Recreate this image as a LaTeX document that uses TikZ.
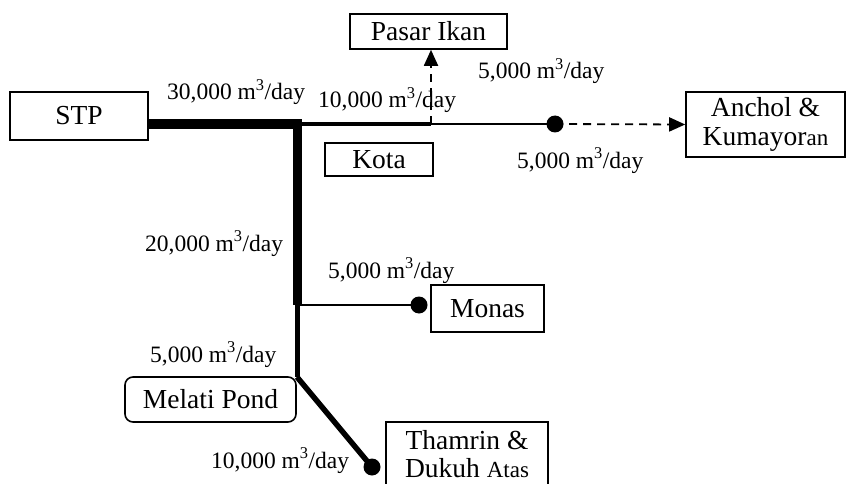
\documentclass[tikz,border=0pt]{standalone}
\usepackage{fontspec}
\setmainfont{Liberation Serif}
\usetikzlibrary{arrows.meta}
\begin{document}
\begin{tikzpicture}[x=1pt,y=-1pt,
  box/.style={draw,line width=1.6pt,inner sep=0pt,font=\fontsize{27.5}{29}\selectfont,align=center},
  lbl/.style={inner sep=0pt,anchor=base west,font=\fontsize{23.5}{26}\selectfont},
  dotn/.style={circle,fill=black,inner sep=0pt,minimum size=17pt},
  dsh/.style={line width=1.8pt,dash pattern=on 8pt off 6pt,-{Triangle[length=16pt,width=14pt]}}]
\useasboundingbox (0,0) rectangle (846,484);
% boxes
\node[box,minimum width=138,minimum height=48] (stp) at (79,116) {STP};
\node[box,minimum width=157,minimum height=35] (pasar) at (428.5,31.5) {Pasar Ikan};
\node[box,minimum width=108,minimum height=33] (kota) at (379,159.5) {Kota};
\node[box,minimum width=159,minimum height=65] (anchol) at (765.5,124.5) {Anchol \&\\Kumayor{\fontsize{23}{29}\selectfont an}};
\node[box,minimum width=113,minimum height=47] (monas) at (487.5,308.5) {Monas};
\node[box,rounded corners=8pt,minimum width=171,minimum height=45] (melati) at (210.5,399.5) {Melati Pond};
\node[box,minimum width=162,minimum height=79,anchor=north] (thamrin) at (467,421) {};
\node[inner sep=0pt,font=\fontsize{27.5}{28}\selectfont,align=center] (thamtxt) at (467,454) {Thamrin \&\\Dukuh {\fontsize{23}{28}\selectfont Atas}};
% junctions and dots
\coordinate (j1) at (297,124);
\coordinate (j1e) at (302,124);
\coordinate (j2) at (431,124);
\coordinate (j3) at (297,305);
\coordinate (j4) at (297,377);
\node[dotn] (d1) at (555,124) {};
\node[dotn] (d2) at (419,305) {};
\node[dotn] (d3) at (372,467) {};
% pipes
\draw[line width=10pt] (stp.east|-j1) -- (j1e);
\draw[line width=9pt] ([yshift=-5pt]j1) -- (j3);
\draw[line width=5pt] (j3) -- (j4);
\draw[line width=5.5pt] (j4) -- (d3.center);
\draw[line width=3.5pt] (j1e) -- (j2);
\draw[line width=2.2pt] (j2) -- (d1.center);
\draw[line width=2.2pt] (j3) -- (d2.center);
\draw[dsh] (d1.center) -- (anchol.west);
\draw[dsh] (j2) -- (pasar.south-|j2);
% labels
\node[lbl] (l1) at (167,100) {30,000 m\textsuperscript{3}/day};
\node[lbl] (l2) at (318,108) {10,000 m\textsuperscript{3}/day};
\node[lbl] (l3) at (478,79) {5,000 m\textsuperscript{3}/day};
\node[lbl] (l4) at (517,168) {5,000 m\textsuperscript{3}/day};
\node[lbl] (l5) at (145,251) {20,000 m\textsuperscript{3}/day};
\node[lbl] (l6) at (328,278) {5,000 m\textsuperscript{3}/day};
\node[lbl] (l7) at (150,362) {5,000 m\textsuperscript{3}/day};
\node[lbl] (l8) at (211,468) {10,000 m\textsuperscript{3}/day};
\end{tikzpicture}
\end{document}
